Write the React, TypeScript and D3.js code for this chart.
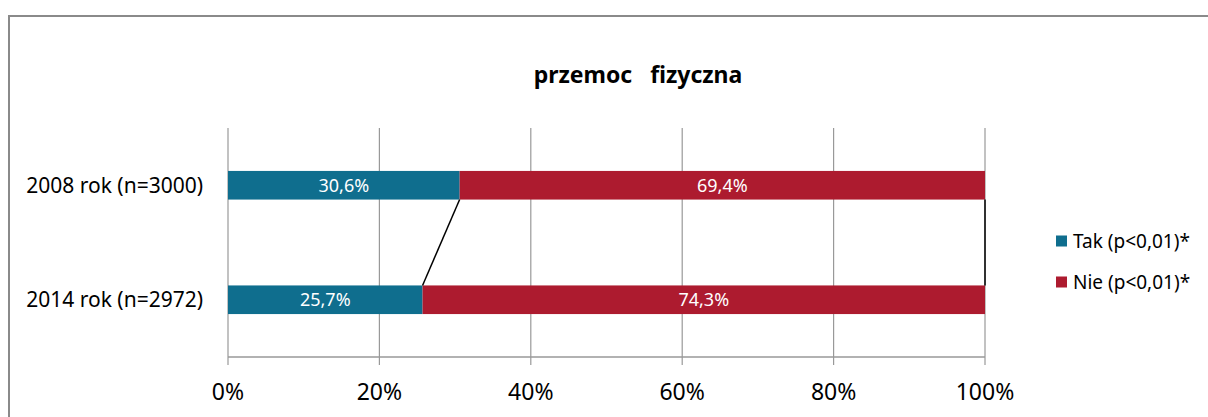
import React, { useEffect, useRef } from 'react';
import * as d3 from 'd3';

const categories = ['2008 rok (n=3000)', '2014 rok (n=2972)'];
const seriesNames = ['Tak (p<0,01)*', 'Nie (p<0,01)*'];
const takValues = [30.6, 25.7];
const nieValues = [69.4, 74.3];
const tickValues = [0, 20, 40, 60, 80, 100];
const colors = ['#0F6E8E', '#AD1B2F'];
const title = 'przemoc\u00a0\u00a0\u00a0fizyczna';

const FONT = "'Noto Sans', 'Open Sans', sans-serif";

const App: React.FC = () => {
  const svgRef = useRef<SVGSVGElement>(null);

  useEffect(() => {
    if (!svgRef.current) return;
    const svg = d3.select(svgRef.current);
    svg.selectAll('*').remove();

    const width = 1208;
    const height = 417;
    const plot = { left: 228, right: 985, top: 128, bottom: 357 };

    // chart border (runs off the right and bottom edge)
    svg.append('rect')
      .attr('x', 9)
      .attr('y', 16)
      .attr('width', width)
      .attr('height', height)
      .attr('fill', '#fff')
      .attr('stroke', '#8a8a8a')
      .attr('stroke-width', 2);

    const x = d3.scaleLinear().domain([0, 100]).range([plot.left, plot.right]);
    const y = d3.scaleBand<string>().domain(categories).range([plot.top, plot.bottom]);
    const barH = y.bandwidth() * 0.25;

    // title
    svg.append('text')
      .attr('x', 638)
      .attr('y', 83)
      .attr('text-anchor', 'middle')
      .attr('font-family', FONT)
      .attr('font-weight', 'bold')
      .attr('font-size', 23)
      .attr('fill', '#000')
      .text(title);

    // gridlines
    svg.append('g')
      .selectAll('line')
      .data(tickValues)
      .join('line')
      .attr('x1', d => x(d))
      .attr('x2', d => x(d))
      .attr('y1', plot.top)
      .attr('y2', plot.bottom + 8)
      .attr('stroke', '#999')
      .attr('stroke-width', 1.2);

    // axis line
    svg.append('line')
      .attr('x1', plot.left)
      .attr('x2', plot.right)
      .attr('y1', plot.bottom)
      .attr('y2', plot.bottom)
      .attr('stroke', '#999')
      .attr('stroke-width', 1.5);

    // tick labels
    svg.append('g')
      .selectAll('text')
      .data(tickValues)
      .join('text')
      .attr('x', d => x(d))
      .attr('y', 400)
      .attr('text-anchor', 'middle')
      .attr('font-family', FONT)
      .attr('font-size', 23)
      .attr('fill', '#000')
      .text(d => `${d}%`);

    // stacked bars
    const rows = categories.map((c, i) => ({ c, vals: [takValues[i], nieValues[i]] }));
    rows.forEach(row => {
      const cy = (y(row.c) ?? 0) + y.bandwidth() / 2;
      let acc = 0;
      row.vals.forEach((v, j) => {
        svg.append('rect')
          .attr('x', x(acc))
          .attr('y', cy - barH / 2)
          .attr('width', x(acc + v) - x(acc))
          .attr('height', barH)
          .attr('fill', colors[j]);
        svg.append('text')
          .attr('x', (x(acc) + x(acc + v)) / 2)
          .attr('y', cy)
          .attr('dy', '0.35em')
          .attr('text-anchor', 'middle')
          .attr('font-family', FONT)
          .attr('font-size', 18)
          .attr('fill', '#fff')
          .text(`${v.toFixed(1).replace('.', ',')}%`);
        acc += v;
      });
      // category label
      svg.append('text')
        .attr('x', 203)
        .attr('y', cy)
        .attr('dy', '0.35em')
        .attr('text-anchor', 'end')
        .attr('font-family', FONT)
        .attr('font-size', 21)
        .attr('fill', '#000')
        .text(row.c);
    });

    // series lines between bars
    const c0 = (y(categories[0]) ?? 0) + y.bandwidth() / 2;
    const c1 = (y(categories[1]) ?? 0) + y.bandwidth() / 2;
    [
      [takValues[0], takValues[1]],
      [takValues[0] + nieValues[0], takValues[1] + nieValues[1]],
    ].forEach(([a, b]) => {
      svg.append('line')
        .attr('x1', x(a))
        .attr('y1', c0 + barH / 2)
        .attr('x2', x(b))
        .attr('y2', c1 - barH / 2)
        .attr('stroke', '#000')
        .attr('stroke-width', 1.5);
    });

    // legend
    const legend = svg.append('g');
    seriesNames.forEach((name, i) => {
      const ly = 241 + i * 41;
      legend.append('rect')
        .attr('x', 1056)
        .attr('y', ly - 5.5)
        .attr('width', 11)
        .attr('height', 11)
        .attr('fill', colors[i]);
      legend.append('text')
        .attr('x', 1073)
        .attr('y', ly)
        .attr('dy', '0.35em')
        .attr('font-family', FONT)
        .attr('font-size', 19)
        .attr('fill', '#000')
        .text(name);
    });
  }, []);

  return <svg ref={svgRef} width={1208} height={417} style={{ display: 'block', position: 'absolute', left: 0, top: 0 }} />;
};

export default App;
